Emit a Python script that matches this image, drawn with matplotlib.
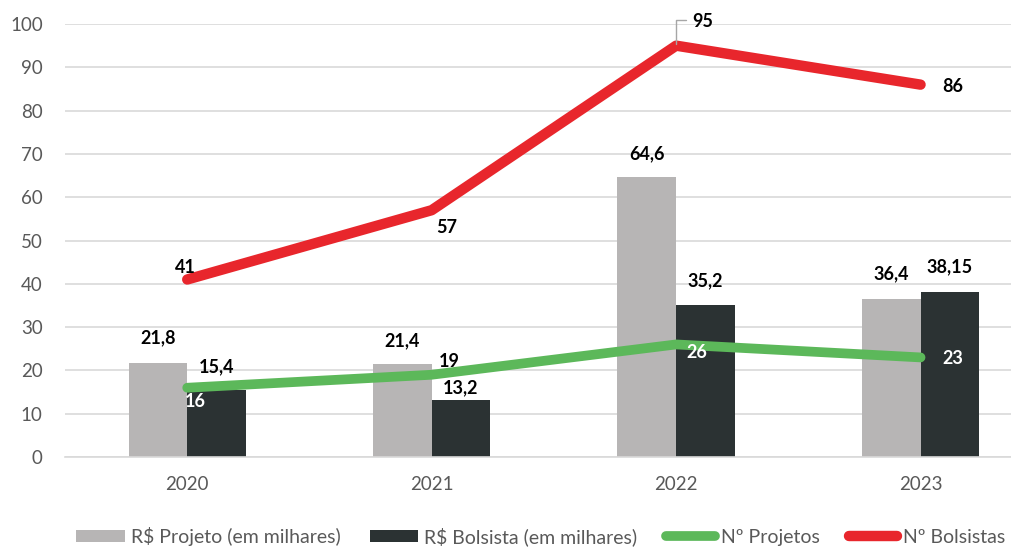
"""Projetos e bolsistas por ano: barras (R$) e linhas (quantidades)."""

import matplotlib.pyplot as plt
import numpy as np

plt.rcParams["font.family"] = ["Lato", "DejaVu Sans"]

years = ["2020", "2021", "2022", "2023"]
valor_projeto = [21.8, 21.4, 64.6, 36.4]
valor_bolsista = [15.4, 13.2, 35.2, 38.15]
num_projetos = [16, 19, 26, 23]
num_bolsistas = [41, 57, 95, 86]

# label offsets in pixels (dx, dy) relative to the data point
off_projeto = [(0, 25), (0, 24), (0, 24), (0, 26)]
off_bolsista = [(0, 24), (0, 12), (0, 24), (0, 25)]
off_nproj = [(8, -14), (18, 13), (21, -8), (32, -1)]
off_nbols = [(-2, 12), (15, -17), (27, 24), (32, -2)]

GRAY = "#b7b5b5"
DARK = "#2b3233"
GREEN = "#5cb85a"
RED = "#e8262c"
TEXT = "#595959"


def fmt(v):
    return f"{v:g}".replace(".", ",")


def main():
    fig = plt.figure(figsize=(10.11, 5.47), dpi=100)
    ax = fig.add_axes([0.0643, 0.1645, 0.9357, 0.7916])

    x = np.arange(len(years))
    w = 0.24
    b1 = ax.bar(x - w / 2, valor_projeto, w, color=GRAY, label="R$ Projeto (em milhares)", zorder=2)
    b2 = ax.bar(x + w / 2, valor_bolsista, w, color=DARK, label="R$ Bolsista (em milhares)", zorder=2)
    (l1,) = ax.plot(x, num_projetos, color=GREEN, lw=7, solid_capstyle="round",
                    label="Nº Projetos", zorder=3)
    (l2,) = ax.plot(x, num_bolsistas, color=RED, lw=7.5, solid_capstyle="round",
                    label="Nº Bolsistas", zorder=3)

    kw = dict(textcoords="offset pixels", ha="center", va="center",
              fontsize=13, fontweight="bold", zorder=5)
    for i in range(len(years)):
        ax.annotate(fmt(valor_projeto[i]), (x[i] - w / 2, valor_projeto[i]),
                    xytext=off_projeto[i], color="black", **kw)
        ax.annotate(fmt(valor_bolsista[i]), (x[i] + w / 2, valor_bolsista[i]),
                    xytext=off_bolsista[i], color="black", **kw)
        proj_color = "black" if i == 1 else "white"
        ax.annotate(fmt(num_projetos[i]), (x[i], num_projetos[i]),
                    xytext=off_nproj[i], color=proj_color, **kw)
        ax.annotate(fmt(num_bolsistas[i]), (x[i], num_bolsistas[i]),
                    xytext=off_nbols[i], color="black", **kw)

    # leader line for the 2022 peak label
    ax.annotate("", (x[2], num_bolsistas[2] + 0.4), xytext=(10, 24),
                textcoords="offset pixels",
                arrowprops=dict(arrowstyle="-", color="#a6a6a6", lw=1,
                                connectionstyle="angle,angleA=0,angleB=90,rad=0",
                                shrinkA=0, shrinkB=0))

    ax.set_xlim(-0.5, 3.37)
    ax.set_ylim(0, 100)
    ax.set_yticks(range(0, 101, 10))
    ax.set_xticks(x, years)
    ax.grid(axis="y", color="#d9d9d9", lw=1.2, zorder=0)
    ax.set_axisbelow(True)
    for side in ["top", "right", "left"]:
        ax.spines[side].set_visible(False)
    ax.spines["bottom"].set_color("#d9d9d9")
    ax.spines["bottom"].set_linewidth(1.2)
    ax.tick_params(axis="both", length=0, labelsize=13.5, labelcolor=TEXT)
    ax.tick_params(axis="y", pad=16)
    ax.tick_params(axis="x", pad=14)

    fig.legend([b1, b2, l1, l2], [h.get_label() for h in (b1, b2, l1, l2)],
               loc="lower center", bbox_to_anchor=(0.535, -0.03), ncol=4,
               frameon=False, fontsize=14, labelcolor=TEXT, handlelength=2.5,
               handleheight=0.6, columnspacing=1.5, handletextpad=0.3)

    fig.savefig("out.png", dpi=100)
    plt.close(fig)


if __name__ == "__main__":
    main()
